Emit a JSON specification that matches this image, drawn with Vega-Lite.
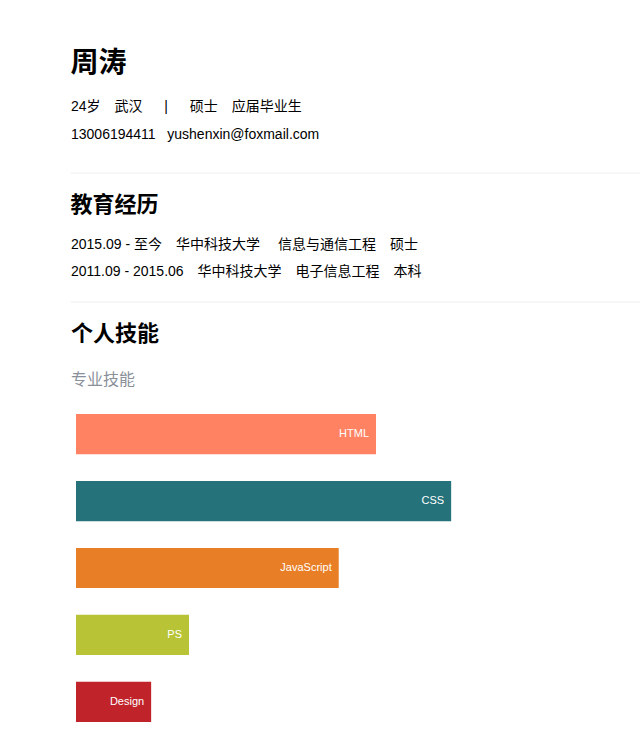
{
  "$schema": "https://vega.github.io/schema/vega-lite/v6.json",
  "padding": {"left": 70, "top": 50, "right": 0, "bottom": 0},
  "background": "white",
  "spacing": 20,
  "config": {
    "view": {"stroke": null},
    "font": "Liberation Sans, Noto Sans CJK SC",
    "title": {"anchor": "start", "font": "Liberation Sans, Noto Sans CJK SC", "color": "#000", "fontWeight": "bold"}
  },
  "datasets": {
    "info": [
      {"line": 1, "text": "24岁\u3000武汉\u3000\u00a0\u00a0|\u00a0\u00a0\u3000硕士\u3000应届毕业生"},
      {"line": 2, "text": "13006194411\u00a0\u00a0\u00a0yushenxin@foxmail.com"}
    ],
    "edu": [
      {"line": 1, "text": "2015.09 - 至今\u3000华中科技大学\u3000\u00a0信息与通信工程\u3000硕士"},
      {"line": 2, "text": "2011.09 - 2015.06\u3000华中科技大学\u3000电子信息工程\u3000本科"}
    ],
    "skills": [
      {"skill": "HTML", "level": 53.1, "color": "#FF8363"},
      {"skill": "CSS", "level": 66.4, "color": "#26727A"},
      {"skill": "JavaScript", "level": 46.5, "color": "#E87E25"},
      {"skill": "PS", "level": 20, "color": "#B8C435"},
      {"skill": "Design", "level": 13.3, "color": "#C1232B"}
    ]
  },
  "vconcat": [
    {
      "width": 570,
      "height": 80,
      "title": {"text": "周涛", "fontSize": 28, "offset": 15},
      "layer": [
        {
          "data": {"name": "info"},
          "mark": {"type": "text", "align": "left", "baseline": "middle", "fontSize": 14, "color": "#000"},
          "encoding": {
            "x": {"value": 0},
            "y": {"field": "line", "type": "quantitative", "scale": {"domain": [0.5, 3.357], "reverse": true}, "axis": null},
            "text": {"field": "text"}
          }
        },
        {
          "data": {"values": [{}]},
          "mark": {"type": "rule", "color": "#eeeeee", "strokeWidth": 1},
          "encoding": {"y": {"value": 80}, "x": {"value": 0}, "x2": {"value": 570}}
        }
      ]
    },
    {
      "width": 570,
      "height": 71,
      "title": {"text": "教育经历", "fontSize": 22, "offset": 14},
      "layer": [
        {
          "data": {"name": "edu"},
          "mark": {"type": "text", "align": "left", "baseline": "middle", "fontSize": 14, "color": "#000"},
          "encoding": {
            "x": {"value": 0},
            "y": {"field": "line", "type": "quantitative", "scale": {"domain": [0.48, 3.11], "reverse": true}, "axis": null},
            "text": {"field": "text"}
          }
        },
        {
          "data": {"values": [{}]},
          "mark": {"type": "rule", "color": "#eeeeee", "strokeWidth": 1},
          "encoding": {"y": {"value": 71}, "x": {"value": 0}, "x2": {"value": 570}}
        }
      ]
    },
    {
      "width": 570,
      "height": 308,
      "title": {
        "text": "个人技能",
        "fontSize": 22,
        "offset": 25,
        "subtitle": "\u00a0专业技能",
        "subtitleFontSize": 16,
        "subtitleColor": "#8a9099",
        "subtitlePadding": 26,
        "subtitleFont": "Liberation Sans, Noto Sans CJK SC"
      },
      "data": {"name": "skills"},
      "encoding": {
        "y": {"field": "skill", "type": "nominal", "sort": null, "axis": null, "scale": {"paddingInner": 0.4, "paddingOuter": 0}}
      },
      "layer": [
        {
          "mark": {"type": "bar"},
          "encoding": {
            "x": {"field": "level", "type": "quantitative", "scale": {"domain": [0, 100], "range": [5, 570]}, "axis": null},
            "color": {"field": "color", "type": "nominal", "scale": null, "legend": null}
          }
        },
        {
          "mark": {"type": "text", "align": "right", "baseline": "middle", "dx": -7, "fontSize": 11, "color": "white"},
          "encoding": {
            "x": {"field": "level", "type": "quantitative"},
            "text": {"field": "skill"}
          }
        }
      ]
    }
  ]
}
